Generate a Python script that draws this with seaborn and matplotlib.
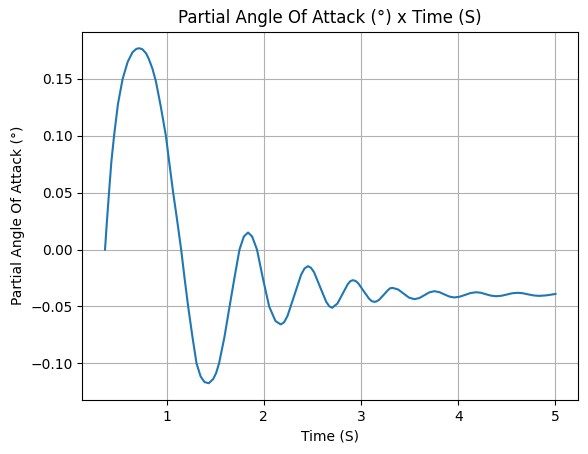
import matplotlib
matplotlib.use("Agg")
import matplotlib.pyplot as plt
import seaborn as sns
import pandas as pd

time_s = [0.367, 0.385, 0.408, 0.432, 0.46, 0.50, 0.548, 0.60, 0.65, 0.69, 0.719,
          0.75, 0.79, 0.818, 0.855, 0.89, 0.94, 0.993, 1.03, 1.068, 1.11, 1.15,
          1.185, 1.222, 1.265, 1.308, 1.35, 1.39, 1.434, 1.48, 1.51, 1.54, 1.595, 1.648,
          1.70, 1.75, 1.795, 1.838, 1.88, 1.93, 1.99, 2.055, 2.12,
          2.174, 2.209, 2.244, 2.314, 2.384, 2.419, 2.454, 2.485, 2.517,
          2.579, 2.642, 2.673, 2.704, 2.73, 2.757, 2.81, 2.863, 2.89, 2.916,
          2.944, 2.972, 3.027, 3.083, 3.11, 3.138, 3.16, 3.185, 3.232, 3.279,
          3.30, 3.326, 3.382, 3.438, 3.493, 3.549, 3.60, 3.652, 3.703, 3.754,
          3.805, 3.857, 3.908, 3.96, 4.016, 4.072, 4.127, 4.183, 4.234, 4.286,
          4.337, 4.388, 4.444, 4.50, 4.554, 4.61, 4.665, 4.72, 4.775, 4.83,
          4.90, 4.95, 5.0]
angle_deg = [0.0, 0.023, 0.05, 0.077, 0.10, 0.128, 0.15, 0.165, 0.1735, 0.1765, 0.177,
             0.1762, 0.1725, 0.1675, 0.159, 0.148, 0.126, 0.10, 0.075, 0.05, 0.025, 0.0,
             -0.025, -0.05, -0.076, -0.10, -0.1115, -0.1165, -0.1175, -0.1138, -0.1085, -0.10, -0.077, -0.05,
             -0.024, 0.0, 0.0115, 0.015, 0.0115, 0.0, -0.025, -0.05, -0.0628,
             -0.0658, -0.0639, -0.0583, -0.0402, -0.0221, -0.0166, -0.0146, -0.016, -0.0199,
             -0.0329, -0.0459, -0.0498, -0.0512, -0.0493, -0.0475, -0.039, -0.0305, -0.0278, -0.0269,
             -0.0276, -0.0297, -0.0365, -0.0432, -0.0453, -0.046, -0.0455, -0.0442, -0.0399, -0.0355,
             -0.034, -0.0337, -0.0351, -0.0387, -0.0422, -0.0436, -0.0426, -0.0401, -0.0376, -0.0366,
             -0.0374, -0.0394, -0.0413, -0.0421, -0.0414, -0.0398, -0.0382, -0.0375, -0.038, -0.0393,
             -0.0405, -0.041, -0.0406, -0.0395, -0.0384, -0.038, -0.0384, -0.0394, -0.0403, -0.0407,
             -0.0403, -0.0397, -0.039]

df = pd.DataFrame({"Time (S)": time_s, "Partial Angle Of Attack (°)": angle_deg})

fig = plt.figure(figsize=(5.88, 4.54), dpi=100)
ax = fig.add_axes([0.1403, 0.119, 0.983 - 0.1403, 0.9306 - 0.119])
sns.lineplot(data=df, x="Time (S)", y="Partial Angle Of Attack (°)", ax=ax,
             color="#1f77b4", linewidth=1.5, sort=False)
ax.set_title("Partial Angle Of Attack (°) x Time (S)", fontsize=12)
ax.set_xlabel("Time (S)", fontsize=10)
ax.set_ylabel("Partial Angle Of Attack (°)", fontsize=10)
ax.grid(True, color="#b0b0b0", linewidth=0.8)
ax.set_axisbelow(True)
fig.savefig("out.png", dpi=100)
